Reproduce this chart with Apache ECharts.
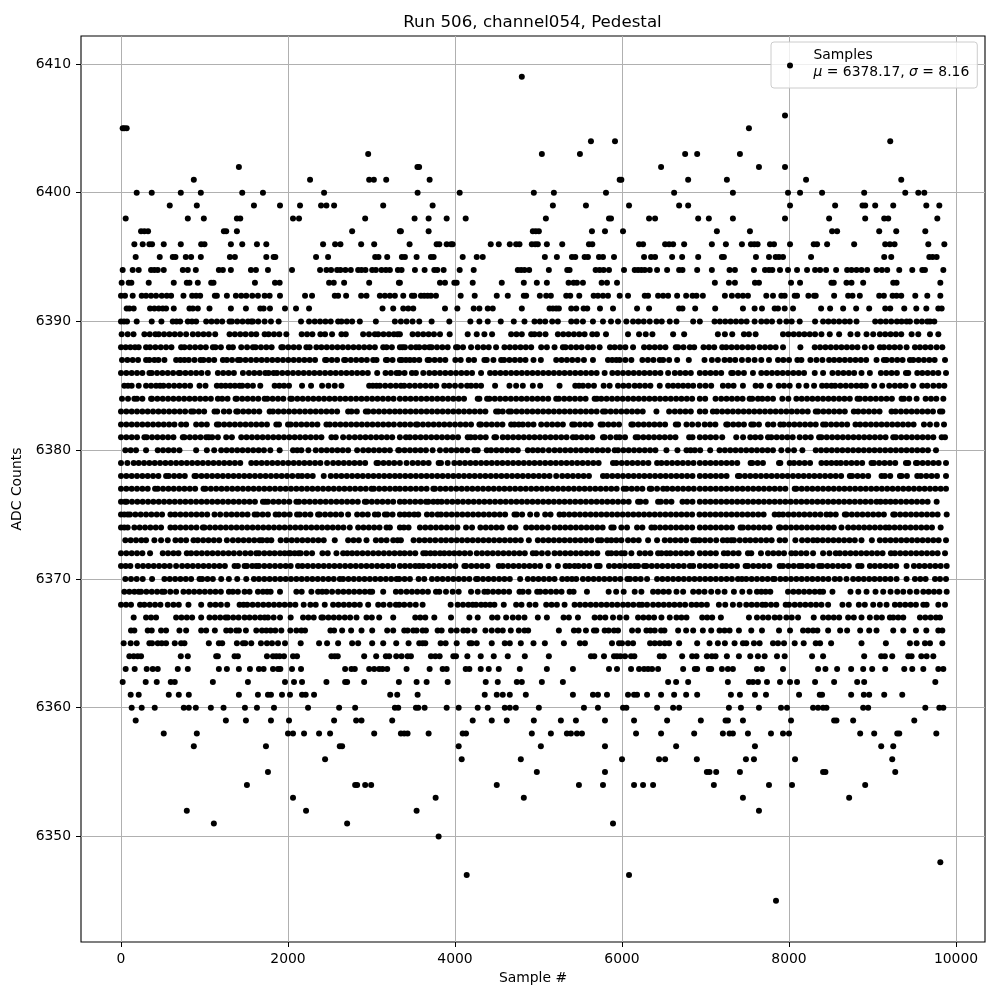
<!DOCTYPE html>
<html>
<head>
<meta charset="utf-8">
<title>Run 506, channel054, Pedestal</title>
<script src="https://cdn.jsdelivr.net/npm/echarts@6/dist/echarts.min.js"></script>
<style>
  html, body { margin: 0; padding: 0; background: #fff; }
  #main { width: 1000px; height: 1000px; }
</style>
</head>
<body>
<div id="main"></div>
<script>
// sample numbers, one list per ADC level
const adc6345 = [7844];
const adc6347 = [4140,6084];
const adc6348 = [9812];
const adc6350 = [3804];
const adc6351 = [1112,2708,5892];
const adc6352 = [788,2216,3540,7640];
const adc6353 = [2060,3768,4824,7448,8720];
const adc6354 = [1508,2804,2828,2924,2996,4500,5484,5772,6144,6252,6372,7100,7760,8036,8912];
const adc6355 = [1760,4980,5796,7016,7048,7128,7412,8408,8436,9272];
const adc6356 = [2444,4080,4788,6000,6444,6516,6896,7484,7580,8072,9236];
const adc6357 = [872,1736,2620,2648,4044,5028,5796,6648,7592,9104,9248];
const adc6358 = [512,908,2000,2060,2192,2372,2504,3032,3352,3392,3432,3684,4092,4132,4920,5148,5340,5388,5460,5520,6168,6468,6864,7208,7288,7328,7508,7784,7928,8000,8852,9020,9296,9320,9764];
const adc6359 = [176,1256,1496,1796,2012,2552,2816,2880,3248,4212,4440,4620,4944,5268,5448,5796,6144,6540,6944,7240,7268,7448,8024,8540,8568,8768,9500];
const adc6360 = [128,248,404,752,812,896,1076,1228,1484,1628,1832,2240,2612,2804,3280,3320,3532,3560,3636,3900,4044,4272,4392,4596,4656,4728,5004,5544,5712,6012,6052,6420,6612,6684,7280,7424,7640,7904,7976,8288,8348,8408,8448,8888,8948,9632,9800,9848];
const adc6361 = [116,212,572,692,812,1412,1640,1760,1796,1928,2024,2168,2212,2312,3224,3308,3552,4356,4500,4572,4656,4848,5412,5652,5712,5820,6072,6144,6180,6300,6468,6624,6768,6900,7304,7412,7592,7724,8120,8368,8396,8744,8896,8960,9140,9356];
const adc6362 = [20,296,428,596,644,1100,1520,1964,2072,2168,2460,2684,2708,2912,3328,3540,3660,3912,4368,4512,4740,4800,5040,5292,6552,6648,6792,7268,7520,7568,7628,7736,7892,8012,8096,8312,8540,8816,8900,9752];
const adc6363 = [56,164,308,380,440,680,800,1172,1268,1412,1544,1652,1708,1820,1880,1908,2048,2156,2684,2760,2800,2972,3032,3092,3132,3188,3420,3696,3852,3900,4128,4172,4308,4404,4524,4776,5100,5412,5844,5940,6108,6204,6264,6312,6360,6432,6732,6872,6900,7040,7068,7196,7268,7328,7616,7676,7928,8348,8436,8576,8744,8888,8996,9152,9380,9476,9608,9788,9848];
const adc6364 = [100,152,200,240,716,800,1140,1160,1360,1400,1748,1820,1860,1900,1952,2060,2108,2520,2560,2596,2912,3056,3172,3212,3296,3360,3432,3472,3712,3764,3816,3980,4012,4148,4308,4464,4632,4836,5124,5628,5668,5784,5904,5940,5980,6036,6108,6148,6452,6500,6720,6840,6892,7016,7076,7120,7256,7400,7536,7628,7708,7856,7948,8276,8408,8900,9104,9148,9236,9428,9468,9584,9648,9728];
const adc6365 = [32,116,188,340,372,440,488,540,644,720,760,1052,1172,1212,1388,1460,1488,1560,1676,1748,1808,1880,1964,2152,2372,2468,2600,2768,2840,3008,3140,3296,3444,3572,3612,3644,3828,3888,4020,4176,4200,4260,4440,4596,4656,4788,4940,5076,5304,5496,5556,5880,5964,6000,6072,6132,6336,6392,6452,6512,6564,6684,6900,7048,7148,7232,7348,7448,7488,7580,7648,7808,7868,7940,8068,8176,8320,8372,8504,8868,9160,9448,9528,9628,9688,9836];
const adc6366 = [120,160,320,368,480,540,700,780,960,1020,1124,1260,1312,1380,1412,1496,1620,1688,1740,1792,1848,1920,2028,2100,2160,2204,2508,2552,2648,2756,2880,3008,3188,3260,3392,3432,3500,3540,3612,3652,3792,3840,3952,4020,4100,4152,4232,4364,4440,4512,4572,4668,4764,4832,4876,5244,5424,5480,5568,5664,5692,5792,5840,5904,5952,6120,6192,6292,6340,6392,6468,6508,6672,6768,6852,6968,7068,7168,7228,7288,7400,7548,7676,7880,8012,8168,8228,8288,8340,8468,8612,8696,8852,8960,9048,9248,9368,9520,9644,9788,9836];
const adc6367 = [152,300,360,420,660,724,788,852,960,1060,1124,1188,1252,1280,1344,1408,1480,1540,1604,1668,1720,1760,1828,1904,2032,2180,2244,2308,2400,2420,2484,2548,2612,2680,2744,2820,2940,3004,3092,3260,3524,3584,3644,3752,3952,4172,4272,4444,4508,4612,4692,4760,4832,4992,5100,5300,5364,5472,5672,5736,5800,5892,5972,6052,6192,6256,6320,6384,6472,6572,6652,6712,6772,6960,7020,7080,7184,7520,7616,7688,7752,7828,7888,7968,8032,8108,8296,8408,8472,8536,8600,8708,8776,8868,8968,9048,9112,9208,9248,9308,9368,9568,9632,9696,9760,9808];
const adc6368 = [0,60,120,228,280,344,408,472,560,628,692,808,960,1068,1132,1196,1272,1420,1468,1512,1576,1640,1704,1768,1832,1896,1960,2024,2088,2188,2268,2332,2440,2540,2604,2668,2732,2796,2860,2960,3080,3144,3220,3292,3332,3392,3460,3530,3612,3948,4032,4096,4160,4212,4252,4312,4364,4420,4472,4584,4732,4796,4892,4964,5092,5156,5220,5312,5432,5496,5560,5624,5688,5752,5816,5880,5944,6012,6072,6136,6204,6240,6300,6372,6436,6500,6564,6628,6692,6756,6832,6892,6952,7016,7160,7236,7328,7408,7488,7552,7616,7680,7720,7784,7848,7960,8000,8068,8132,8196,8260,8324,8388,8468,8640,8716,8836,8908,9008,9088,9168,9268,9328,9392,9456,9520,9608,9648,9788,9868];
const adc6369 = [40,100,160,212,240,304,368,432,492,520,590,660,748,812,876,940,1004,1068,1132,1196,1292,1340,1400,1480,1540,1640,1700,1750,1792,1904,2100,2164,2280,2360,2410,2460,2528,2600,2664,2728,2792,2856,2920,2980,3008,3140,3292,3352,3420,3484,3548,3612,3676,3772,3812,3892,3972,4044,4192,4272,4352,4392,4456,4520,4584,4648,4772,4812,4880,4984,5020,5084,5148,5212,5276,5372,5420,5580,5840,5930,6020,6152,6232,6372,6432,6496,6560,6652,6732,6852,6920,6988,7068,7148,7228,7340,7440,7528,7616,7668,7720,7776,7988,8052,8116,8180,8244,8308,8368,8408,8520,8736,8830,8928,9036,9128,9216,9296,9368,9448,9528,9608,9672,9736,9800,9888];
const adc6370 = [52,120,188,260,372,520,584,648,712,776,840,940,972,1036,1100,1200,1292,1392,1500,1592,1652,1716,1780,1844,1908,1972,2036,2100,2164,2228,2292,2356,2420,2484,2548,2620,2660,2724,2788,2852,2916,2980,3044,3108,3172,3236,3300,3332,3396,3460,3564,3632,3724,3788,3852,3916,3980,4044,4108,4172,4252,4272,4336,4400,4464,4528,4592,4656,4780,4872,4936,5000,5064,5128,5192,5284,5344,5400,5452,5532,5596,5660,5724,5788,5852,5916,5980,6064,6096,6160,6224,6300,6420,6484,6548,6612,6676,6740,6804,6868,6932,6996,7060,7124,7188,7252,7316,7388,7436,7488,7552,7616,7680,7744,7808,7828,7896,7960,8024,8088,8152,8216,8280,8344,8408,8472,8548,8608,8688,8768,8832,8896,8960,9024,9088,9152,9216,9288,9408,9508,9572,9636,9748,9808,9880];
const adc6371 = [0,56,112,200,264,328,392,456,520,584,660,732,796,860,924,988,1052,1116,1180,1244,1360,1400,1480,1508,1572,1620,1652,1716,1780,1844,1908,1972,2032,2120,2172,2236,2300,2364,2428,2492,2556,2620,2684,2748,2812,2876,2940,3004,3068,3132,3196,3260,3340,3400,3462,3524,3572,3620,3684,3748,3812,3876,3940,4004,4112,4132,4196,4260,4324,4388,4524,4572,4636,4700,4764,4828,4892,4956,5020,5120,5232,5324,5372,5432,5480,5544,5608,5700,5732,5844,5908,5972,6036,6100,6152,6192,6264,6292,6356,6420,6484,6548,6612,6676,6740,6812,6852,6932,6996,7060,7124,7200,7248,7312,7376,7480,7508,7572,7636,7700,7764,7888,7928,7992,8056,8120,8156,8220,8284,8360,8396,8460,8524,8588,8652,8716,8828,8868,8968,9028,9092,9156,9220,9284,9408,9496,9560,9624,9688,9752,9816,9888];
const adc6372 = [0,64,128,192,256,348,500,564,628,688,788,840,904,968,1032,1096,1160,1224,1288,1352,1420,1488,1552,1620,1652,1716,1780,1840,1904,1960,2012,2028,2080,2128,2152,2220,2288,2412,2476,2580,2660,2710,2768,2828,2892,2956,3020,3084,3148,3212,3276,3340,3396,3460,3524,3620,3652,3706,3760,3820,3872,3932,3992,4052,4116,4180,4260,4324,4388,4452,4516,4580,4644,4708,4772,4836,4932,4972,5040,5112,5192,5256,5320,5384,5448,5512,5576,5640,5704,5832,5872,5932,5992,6032,6112,6212,6276,6340,6432,6472,6532,6580,6644,6708,6772,6836,6932,6996,7060,7124,7220,7268,7332,7396,7508,7548,7664,7748,7812,7876,7940,8028,8080,8144,8208,8288,8408,8484,8560,8608,8672,8736,8800,8864,8928,8992,9056,9120,9220,9268,9332,9396,9460,9524,9588,9652,9716,9780,9868];
const adc6373 = [52,116,180,244,300,400,480,560,652,716,780,868,920,984,1048,1112,1176,1268,1340,1404,1468,1532,1596,1660,1692,1750,1800,1912,1980,2044,2108,2172,2236,2300,2364,2428,2560,2720,2784,2848,2940,3052,3116,3180,3260,3312,3352,3504,3572,3636,3700,3764,3832,3892,3956,4020,4084,4148,4212,4276,4340,4404,4468,4532,4596,4660,4724,4788,4884,4992,5056,5120,5184,5248,5312,5376,5440,5504,5568,5632,5712,5752,5820,5872,5932,5992,6072,6136,6200,6312,6420,6512,6576,6640,6704,6768,6852,6880,6928,6992,7056,7128,7208,7260,7308,7340,7410,7476,7536,7600,7664,7728,7792,7888,7952,8076,8156,8222,8288,8340,8404,8468,8532,8596,8660,8724,8788,8868,8992,9088,9152,9216,9280,9344,9408,9472,9536,9600,9664,9728,9792,9880];
const adc6374 = [0,40,80,160,224,288,352,416,480,592,648,712,776,840,904,980,1000,1064,1128,1192,1256,1320,1384,1448,1512,1576,1640,1704,1768,1832,1896,1960,2024,2088,2152,2216,2280,2344,2408,2472,2536,2600,2664,2740,2840,2904,2968,3032,3096,3180,3220,3340,3388,3444,3580,3644,3708,3772,3836,3900,3964,4028,4132,4204,4304,4368,4432,4496,4560,4660,4724,4852,4916,4980,5044,5112,5192,5256,5320,5384,5448,5512,5576,5640,5704,5768,5872,5900,5992,6060,6180,6244,6352,6392,6456,6520,6584,6648,6712,6776,6840,6932,6996,7060,7124,7188,7252,7316,7420,7448,7512,7576,7640,7704,7768,7880,7896,7960,8024,8088,8152,8216,8280,8344,8408,8472,8536,8628,8708,8772,8836,8900,8964,9028,9092,9156,9200,9264,9328,9392,9456,9520,9584,9648,9712,9816];
const adc6375 = [0,40,80,108,172,236,300,364,428,492,592,648,712,776,840,904,968,1032,1120,1188,1260,1324,1388,1452,1516,1600,1632,1696,1760,1852,1892,1956,2020,2108,2140,2204,2268,2360,2380,2444,2508,2572,2636,2720,2828,2892,2956,3040,3080,3160,3188,3252,3340,3396,3452,3512,3560,3664,3724,3792,3832,3896,3960,4024,4088,4152,4216,4280,4344,4408,4472,4536,4600,4712,4740,4804,4900,4980,5080,5144,5252,5304,5368,5432,5496,5560,5624,5688,5752,5816,5880,5944,6008,6072,6136,6200,6264,6328,6392,6456,6520,6584,6648,6712,6776,6840,6928,6992,7056,7120,7184,7248,7312,7376,7440,7504,7568,7632,7696,7828,7880,7928,7992,8056,8120,8184,8248,8312,8376,8448,8496,8560,8668,8688,8752,8816,8880,8944,9008,9072,9136,9248,9268,9332,9396,9460,9524,9588,9652,9716,9780,9888];
const adc6376 = [0,48,68,132,196,260,324,388,452,516,580,644,708,772,836,900,964,1028,1092,1156,1220,1284,1348,1412,1476,1540,1604,1700,1728,1760,1824,1888,1952,2016,2100,2132,2196,2260,2324,2388,2452,2516,2580,2644,2708,2772,2836,2920,2940,3004,3068,3132,3196,3260,3340,3396,3460,3524,3588,3652,3680,3740,3792,3840,3904,3968,4032,4096,4160,4224,4288,4352,4416,4480,4544,4608,4672,4736,4800,4864,4928,4992,5056,5120,5184,5248,5312,5376,5440,5504,5568,5632,5696,5760,5824,5888,5952,6016,6080,6192,6220,6284,6432,6464,6528,6592,6724,6780,6844,6932,6996,7060,7124,7188,7252,7316,7380,7444,7508,7572,7636,7700,7764,7828,7892,7956,8020,8084,8148,8212,8276,8340,8404,8468,8532,8596,8660,8724,8788,8852,8916,8980,9048,9096,9156,9216,9276,9340,9404,9468,9532,9596,9660,9768];
const adc6377 = [0,64,128,192,256,320,408,440,504,568,632,696,760,824,888,988,1012,1076,1140,1204,1268,1332,1396,1460,1524,1588,1652,1716,1780,1844,1908,1972,2036,2100,2164,2228,2292,2356,2420,2484,2548,2612,2676,2740,2804,2868,2932,3000,3028,3092,3156,3220,3284,3340,3404,3468,3532,3596,3660,3740,3760,3824,3888,3952,4016,4080,4144,4208,4272,4336,4400,4464,4528,4592,4656,4720,4784,4848,4912,4976,5040,5104,5168,5232,5296,5360,5424,5488,5552,5616,5680,5744,5808,5872,5936,6020,6052,6116,6180,6244,6332,6352,6420,6492,6540,6604,6668,6732,6796,6860,6932,6996,7060,7124,7188,7252,7316,7380,7444,7508,7572,7636,7700,7764,7828,7892,7956,8068,8088,8152,8216,8280,8344,8408,8472,8536,8600,8664,8728,8792,8856,8920,8984,9048,9112,9176,9240,9304,9368,9432,9496,9560,9624,9688,9752,9816,9880];
const adc6378 = [0,64,128,192,256,320,384,448,540,572,636,700,764,880,900,964,1028,1092,1156,1220,1284,1348,1412,1476,1540,1604,1668,1732,1796,1860,1924,1988,2052,2120,2168,2232,2296,2428,2512,2576,2640,2704,2768,2832,2896,2960,3024,3088,3152,3216,3280,3340,3404,3468,3532,3596,3660,3724,3788,3852,3916,3980,4044,4108,4172,4236,4300,4364,4428,4492,4556,4620,4684,4748,4812,4876,4940,5004,5068,5132,5212,5284,5348,5412,5476,5540,5604,5772,5820,5884,5948,6012,6076,6140,6204,6268,6332,6396,6460,6524,6588,6652,6716,6780,6844,6932,6996,7060,7124,7188,7252,7388,7408,7472,7536,7600,7664,7728,7792,7856,7920,7984,8048,8112,8176,8240,8304,8368,8432,8496,8560,8624,8728,8756,8820,8884,8948,9108,9148,9212,9328,9348,9412,9536,9580,9644,9708,9772,9880];
const adc6379 = [0,76,152,212,276,340,404,468,532,596,660,724,788,852,916,980,1044,1108,1172,1236,1300,1364,1428,1560,1620,1684,1748,1812,1876,1940,2004,2068,2132,2196,2260,2324,2388,2468,2540,2604,2668,2732,2796,2860,2924,3060,3080,3144,3208,3272,3340,3420,3492,3556,3620,3684,3804,3832,3912,3992,4056,4120,4184,4248,4312,4376,4440,4504,4568,4632,4696,4760,4824,4888,4952,5016,5080,5144,5208,5272,5336,5400,5464,5528,5592,5656,5720,5892,5932,5996,6060,6124,6188,6252,6316,6420,6472,6536,6600,6664,6728,6792,6856,6932,6996,7060,7124,7188,7252,7316,7380,7540,7560,7624,7688,7880,7896,8008,8060,8124,8188,8252,8388,8448,8508,8568,8620,8684,8748,8812,8876,8988,9016,9080,9144,9208,9272,9400,9428,9520,9536,9600,9664,9728,9792,9880];
const adc6380 = [52,116,180,300,440,504,568,632,700,900,1028,1116,1200,1264,1328,1392,1456,1520,1584,1648,1712,1788,1900,2060,2110,2160,2244,2332,2400,2464,2528,2592,2656,2720,2828,2900,2964,3028,3092,3156,3220,3320,3332,3396,3460,3524,3588,3652,3732,3820,3892,3956,4020,4084,4148,4232,4272,4380,4432,4496,4560,4624,4688,4752,4872,4932,4992,5052,5124,5192,5256,5320,5384,5448,5512,5576,5640,5704,5768,5832,5912,5952,6016,6080,6144,6208,6272,6336,6400,6532,6664,6772,6822,6872,6936,7056,7168,7232,7296,7360,7424,7488,7552,7616,7680,7744,7808,7908,7988,8060,8160,8320,8384,8448,8512,8576,8640,8704,8768,8832,8896,8960,9024,9088,9152,9216,9280,9344,9408,9472,9536,9600,9664,9760];
const adc6381 = [0,64,128,192,280,308,372,436,500,564,628,740,760,824,888,952,1020,1052,1092,1160,1260,1328,1440,1504,1568,1632,1696,1760,1824,1888,1952,2016,2080,2144,2208,2272,2336,2400,2520,2572,2660,2732,2800,2864,2928,2992,3056,3120,3184,3248,3340,3412,3460,3524,3588,3652,3716,3780,3844,3908,3972,4036,4152,4188,4240,4304,4368,4472,4492,4572,4632,4696,4760,4824,4888,4952,5016,5080,5144,5208,5272,5336,5412,5452,5516,5580,5644,5772,5792,5860,5932,5972,6036,6164,6192,6256,6320,6384,6448,6512,6576,6640,6804,6844,6932,6996,7060,7124,7200,7368,7450,7536,7596,7660,7748,7788,7852,7916,7980,8044,8128,8196,8260,8360,8388,8452,8516,8580,8644,8708,8772,8836,8900,8964,9028,9092,9156,9248,9280,9344,9408,9472,9536,9600,9664,9728,9828,9868];
const adc6382 = [0,64,128,192,256,320,384,448,512,576,640,720,780,900,964,1028,1148,1172,1236,1300,1364,1428,1492,1556,1620,1684,1748,1860,1892,2000,2032,2096,2160,2224,2288,2352,2460,2500,2564,2628,2692,2756,2820,2884,2948,3012,3076,3140,3204,3268,3340,3400,3465,3532,3552,3616,3680,3744,3808,3872,3936,4000,4064,4128,4192,4292,4312,4376,4440,4504,4568,4672,4712,4764,4812,4876,4940,5032,5100,5164,5228,5292,5404,5432,5496,5560,5624,5744,5772,5836,5900,5964,6112,6132,6196,6260,6324,6388,6452,6516,6644,6672,6772,6840,6912,6990,7054,7118,7248,7268,7332,7396,7460,7548,7576,7640,7748,7812,7896,7936,8000,8064,8128,8192,8256,8320,8408,8440,8504,8568,8632,8696,8796,8852,8916,8980,9044,9108,9172,9236,9300,9364,9428,9492,9616,9688,9768,9856];
const adc6383 = [0,64,128,192,256,320,384,448,512,576,640,704,768,840,868,932,996,1120,1152,1232,1296,1380,1400,1464,1528,1592,1656,1780,1820,1884,1948,2012,2076,2140,2204,2268,2332,2396,2460,2524,2588,2720,2760,2824,2932,2960,3024,3088,3152,3216,3280,3340,3404,3468,3532,3596,3660,3724,3788,3852,3916,3980,4044,4108,4172,4236,4300,4364,4492,4520,4572,4644,4672,4736,4800,4864,4928,4992,5056,5120,5184,5248,5312,5376,5440,5504,5568,5632,5696,5772,5800,5864,5928,5992,6056,6120,6184,6248,6412,6564,6632,6696,6760,6824,6932,6996,7088,7136,7200,7264,7328,7392,7456,7520,7584,7648,7712,7776,7840,7904,7968,8032,8096,8160,8224,8320,8348,8412,8476,8540,8604,8668,8776,8828,8892,8956,9020,9084,9228,9276,9340,9404,9468,9532,9596,9660,9724,9808,9836];
const adc6384 = [12,84,160,192,256,360,372,436,500,564,628,692,756,820,884,948,1012,1076,1160,1212,1276,1372,1388,1452,1516,1580,1644,1720,1752,1816,1880,1944,2028,2048,2112,2176,2240,2304,2368,2432,2496,2560,2624,2688,2752,2816,2880,2944,3008,3072,3136,3200,3264,3340,3404,3468,3532,3596,3660,3724,3788,3852,3916,3980,4044,4108,4272,4292,4384,4412,4476,4540,4604,4668,4732,4796,4860,4924,4988,5052,5116,5212,5244,5308,5372,5436,5500,5564,5672,5700,5752,5816,5880,5944,6008,6072,6136,6200,6264,6328,6392,6456,6520,6584,6648,6712,6776,6840,6932,6996,7120,7188,7252,7316,7380,7444,7528,7560,7628,7680,7744,7808,7920,7992,8088,8152,8216,8280,8344,8408,8472,8536,8600,8664,8728,8820,8848,8912,8976,9040,9104,9168,9232,9348,9376,9440,9528,9636,9700,9764,9848];
const adc6385 = [40,84,128,212,300,360,420,468,508,572,636,700,764,828,940,1012,1148,1200,1252,1308,1364,1420,1452,1516,1580,1668,1840,1896,1952,2012,2168,2276,2408,2484,2560,2640,2972,3016,3060,3100,3164,3228,3292,3352,3392,3456,3520,3584,3648,3712,3776,3872,3932,4000,4072,4144,4192,4252,4312,4480,4652,4732,4812,4932,5020,5252,5440,5485,5532,5596,5664,5780,5852,5952,6016,6080,6152,6212,6276,6340,6452,6552,6612,6672,6732,6792,6852,6932,7000,7068,7208,7272,7336,7448,7600,7664,7768,7876,7940,8008,8116,8208,8300,8396,8450,8508,8552,8616,8680,8744,8808,8868,8920,9020,9116,9200,9268,9332,9396,9488,9596,9656,9728,9796,9860];
const adc6386 = [0,64,128,192,256,340,368,432,496,560,624,692,708,772,836,900,964,1040,1160,1224,1288,1352,1460,1532,1596,1660,1728,1768,1828,1868,1932,1996,2060,2124,2188,2252,2316,2380,2444,2508,2572,2636,2700,2764,2828,2892,2956,3068,3168,3232,3300,3332,3396,3484,3532,3620,3692,3756,3820,3884,3948,4012,4076,4140,4204,4312,4420,4480,4544,4608,4672,4736,4800,4864,4928,4992,5056,5120,5184,5248,5312,5376,5440,5504,5568,5632,5696,5792,5884,5948,6012,6076,6140,6204,6268,6332,6396,6460,6552,6632,6696,6760,6824,6932,6996,7060,7124,7188,7308,7328,7392,7460,7568,7668,7732,7796,7860,7924,7988,8052,8116,8180,8308,8408,8520,8588,8652,8716,8780,8868,8968,9100,9164,9228,9292,9400,9428,9536,9596,9660,9724,9788,9880];
const adc6387 = [12,76,140,204,300,340,400,448,520,660,710,760,812,880,952,988,1052,1116,1220,1268,1330,1400,1428,1492,1556,1620,1684,1748,1812,1876,1940,2004,2068,2132,2196,2260,2324,2444,2460,2524,2588,2672,2688,2752,2816,2880,2944,3020,3060,3172,3188,3252,3340,3364,3412,3460,3512,3572,3672,3692,3756,3820,3884,4004,4068,4164,4228,4352,4380,4460,4552,4588,4652,4716,4780,4844,4940,5028,5212,5276,5340,5404,5470,5544,5652,5832,5882,5932,5972,6040,6112,6244,6310,6376,6452,6492,6564,6660,6800,6988,7076,7148,7228,7292,7356,7436,7512,7588,7668,7760,7868,7932,8000,8100,8148,8256,8328,8400,8480,8540,8604,8668,8732,8796,8860,8924,9048,9136,9168,9232,9296,9360,9448,9488,9552,9616,9680,9744,9868];
const adc6388 = [0,56,112,168,212,300,348,412,476,540,604,720,760,824,888,952,1016,1100,1132,1196,1292,1340,1440,1510,1580,1612,1676,1740,1804,1920,1940,2004,2068,2132,2220,2260,2340,2400,2464,2528,2592,2656,2720,2784,2848,2912,2976,3040,3140,3180,3244,3340,3372,3400,3472,3532,3572,3636,3692,3720,3784,3848,3912,4012,4032,4096,4192,4272,4340,4404,4492,4592,4656,4720,4784,4848,4912,5032,5100,5192,5292,5324,5388,5452,5516,5592,5652,5732,5856,5912,5976,6040,6132,6264,6328,6392,6456,6520,6644,6672,6736,6812,6864,6976,7040,7104,7200,7248,7312,7376,7440,7508,7568,7648,7712,7776,7840,7928,8136,8308,8372,8436,8500,8564,8628,8692,8756,8820,8908,8988,9088,9136,9200,9264,9328,9408,9508,9568,9632,9696,9768,9836];
const adc6389 = [8,80,150,280,344,412,452,516,580,644,708,780,860,924,988,1052,1128,1300,1364,1428,1492,1560,1620,1720,1768,1832,1896,1980,2164,2228,2292,2388,2444,2528,2640,2692,2900,2970,3040,3080,3144,3208,3268,3312,3340,3492,3556,3620,3684,3748,3820,3936,4152,4260,4352,4444,4672,4736,4800,4912,4952,5012,5084,5232,5296,5360,5424,5488,5552,5644,5700,5808,6072,6204,6284,6364,6612,6744,7148,7232,7320,7460,7520,7600,7928,7992,8056,8120,8184,8248,8312,8388,8488,8600,8736,8820,8928,9008,9088,9152,9216,9280,9344,9468,9548,9688,9788];
const adc6390 = [0,36,72,188,368,484,620,664,708,800,850,900,1020,1084,1148,1212,1300,1328,1392,1456,1520,1560,1580,1644,1720,1796,1888,2156,2252,2320,2384,2448,2512,2600,2640,2704,2768,2860,3052,3280,3352,3420,3492,3572,3720,3932,4184,4292,4392,4548,4704,4832,4952,5016,5080,5164,5232,5392,5456,5532,5652,5772,5868,5952,6052,6132,6196,6260,6332,6412,6476,6572,6652,6852,6932,7108,7172,7236,7300,7364,7428,7492,7588,7668,7732,7796,7888,7968,8032,8128,8312,8408,8472,8536,8600,8668,8728,8808,9032,9096,9160,9224,9292,9348,9408,9448,9528,9592,9656,9688,9740];
const adc6391 = [68,100,152,348,400,452,500,540,632,820,860,920,1060,1316,1496,1668,1708,1784,1964,2096,2252,3132,3260,3380,3440,3500,3880,4028,4224,4292,4392,4452,4800,5132,5172,5212,5244,5392,5452,5540,5584,5736,5892,6180,6324,6684,6724,6876,7116,7448,7588,7676,7828,7868,7948,8048,8384,8492,8648,8804,8960,9152,9212,9380,9524,9644,9788,9828];
const adc6392 = [0,48,140,248,300,360,420,488,548,600,748,852,900,948,1124,1148,1268,1376,1440,1500,1572,1640,1720,1780,1904,2204,2288,2560,2600,2696,2876,2940,3100,3160,3220,3280,3380,3484,3512,3592,3632,3672,3712,3772,4068,4236,4500,4632,4824,4852,5016,5092,5148,5332,5380,5488,5660,5712,5772,5832,5972,6072,6272,6312,6432,6492,6552,6660,6768,6844,6892,6968,7232,7316,7388,7448,7508,7728,7808,7908,7948,8068,8096,8232,8300,8320,8540,8708,8760,8848,9080,9136,9240,9288,9344,9512,9656,9812];
const adc6393 = [8,92,124,332,632,788,820,920,1080,1108,1604,1844,1900,2492,2548,2672,2972,3328,3340,3820,3880,3992,4020,4212,4560,4824,4980,5100,5360,5420,5460,5532,5756,5820,5940,7112,7280,7352,7592,7640,8024,8132,8508,8536,8688,8748,8888,9248,9288,9812];
const adc6394 = [20,140,212,360,400,440,512,740,800,896,1172,1220,1316,1556,1616,1760,2048,2384,2460,2516,2588,2628,2688,2752,2840,2880,2928,3008,3052,3120,3172,3220,3316,3360,3520,3636,3752,3788,3864,4056,4224,4752,4792,4832,4888,5124,5344,5372,5684,5732,5780,5844,6024,6152,6192,6232,6272,6332,6420,6540,6684,6724,6900,7076,7288,7352,7580,7712,7760,7800,7892,7988,8096,8216,8312,8372,8444,8564,8696,8748,8808,8868,8936,9048,9112,9176,9320,9476,9596,9628,9848];
const adc6395 = [176,464,620,652,776,840,956,1304,1364,1740,1828,1848,2336,2480,3044,3084,3188,3364,3400,3540,3712,3744,4092,4260,4332,5076,5220,5400,5440,5552,5592,5724,5772,5904,6264,6348,6396,6600,6720,6912,7196,7220,7604,7760,7840,7880,7928,8264,9140,9224,9680,9720,9768];
const adc6396 = [160,260,340,372,512,716,960,1000,1316,1452,1628,1740,2420,2564,2628,2876,3032,3456,3780,3812,3900,3952,3972,4428,4524,4656,4732,4772,4920,4960,4992,5100,5284,5604,5644,6204,6252,6516,6564,6612,6744,7076,7244,7436,7544,7584,7624,7772,7820,8012,8296,8336,8456,8780,9152,9208,9264,9668,9860];
const adc6397 = [240,280,324,1232,1260,1388,2768,3340,3352,3684,4932,4968,5004,5640,5796,6012,7136,7532,8516,8576,9080,9284,9632];
const adc6398 = [56,800,992,1388,1428,2060,2132,2924,3516,3684,3900,4128,5088,5844,5868,6324,6396,6912,7040,7328,7952,8480,8912,9140,9188,9776];
const adc6399 = [584,908,1592,1904,2144,2396,2460,2552,3140,3732,5172,5568,6084,6684,6792,8012,8552,8880,8912,9032,9248,9644,9800];
const adc6400 = [188,368,716,956,1452,1700,2432,3552,4056,4944,5184,5808,6624,7328,7988,8132,8396,8900,9392,9548,9620];
const adc6401 = [872,2264,2972,3028,3176,3696,5972,5992,6792,7256,8204,9344];
const adc6402 = [1412,3550,3570,6468,7640,7952];
const adc6403 = [2960,5040,5496,6756,6900,7412];
const adc6404 = [5628,5916,9212];
const adc6405 = [20,40,68,7520];
const adc6406 = [7952];
const adc6409 = [4800];

const levels = [
  [6345,adc6345],[6347,adc6347],[6348,adc6348],[6350,adc6350],[6351,adc6351],[6352,adc6352],[6353,adc6353],
  [6354,adc6354],[6355,adc6355],[6356,adc6356],[6357,adc6357],[6358,adc6358],[6359,adc6359],[6360,adc6360],
  [6361,adc6361],[6362,adc6362],[6363,adc6363],[6364,adc6364],[6365,adc6365],[6366,adc6366],[6367,adc6367],
  [6368,adc6368],[6369,adc6369],[6370,adc6370],[6371,adc6371],[6372,adc6372],[6373,adc6373],[6374,adc6374],
  [6375,adc6375],[6376,adc6376],[6377,adc6377],[6378,adc6378],[6379,adc6379],[6380,adc6380],[6381,adc6381],
  [6382,adc6382],[6383,adc6383],[6384,adc6384],[6385,adc6385],[6386,adc6386],[6387,adc6387],[6388,adc6388],
  [6389,adc6389],[6390,adc6390],[6391,adc6391],[6392,adc6392],[6393,adc6393],[6394,adc6394],[6395,adc6395],
  [6396,adc6396],[6397,adc6397],[6398,adc6398],[6399,adc6399],[6400,adc6400],[6401,adc6401],[6402,adc6402],
  [6403,adc6403],[6404,adc6404],[6405,adc6405],[6406,adc6406],[6409,adc6409]
];
const xTicks = [0,2000,4000,6000,8000,10000];
const yTicks = [6350,6360,6370,6380,6390,6400,6410];

let points = [];
levels.forEach(function (row) {
  row[1].forEach(function (x) { points.push([x, row[0]]); });
});

const font = '"DejaVu Sans"';
let myChart = echarts.init(document.getElementById('main'), null, { renderer: 'canvas' });

function axisStyle(ticks) {
  return {
    type: 'value',
    scale: true,
    axisLine: { show: false, onZero: false },
    axisTick: { show: true, length: 5, lineStyle: { color: '#000', width: 1 }, customValues: ticks },
    axisLabel: { color: '#000', fontFamily: font, fontSize: 13.9, margin: 10, customValues: ticks, formatter: function (v) { return String(v); } },
    splitLine: { show: true, lineStyle: { color: '#b0b0b0', width: 1 } },
    nameLocation: 'middle',
    nameTextStyle: { color: '#000', fontFamily: font, fontSize: 13.9 }
  };
}

let option = {
  animation: false,
  backgroundColor: '#fff',
  title: {
    text: 'Run 506, channel054, Pedestal',
    left: 527.5,
    top: 9,
    textAlign: 'center',
    textStyle: { color: '#000', fontFamily: font, fontSize: 16.67, fontWeight: 'normal' }
  },
  grid: { left: 81, right: 15, top: 36, bottom: 58, show: true, borderColor: '#000', borderWidth: 1.1, backgroundColor: 'transparent' },
  xAxis: Object.assign(axisStyle(xTicks), { min: -479, max: 10347, name: 'Sample #', nameGap: 29 }),
  yAxis: Object.assign(axisStyle(yTicks), { min: 6341.8, max: 6412.17, name: 'ADC Counts', nameGap: 45 }),
  legend: {
    show: true,
    left: 771,
    top: 42,
    padding: [6, 8, 9, 16],
    selectedMode: false,
    data: ['Samples'],
    itemWidth: 37,
    itemHeight: 6,
    icon: 'circle',
    backgroundColor: 'rgba(255,255,255,0.8)',
    borderColor: '#cccccc',
    borderWidth: 1,
    borderRadius: 3,
    z: 10,
    formatter: function () {
      return '{a|Samples}\n{i|μ}{a| = 6378.17, }{i|σ}{a| = 8.16}';
    },
    textStyle: {
      color: '#000',
      padding: [0, 0, 4, 0],
      rich: {
        a: { fontFamily: font, fontSize: 13.9, lineHeight: 17, color: '#000' },
        i: { fontFamily: font, fontSize: 13.9, lineHeight: 17, color: '#000', fontStyle: 'italic' }
      }
    }
  },
  series: [{
    name: 'Samples',
    type: 'scatter',
    symbol: 'circle',
    symbolSize: 6,
    itemStyle: { color: '#000', opacity: 1 },
    data: points,
    silent: true,
    large: false,
    progressive: 0
  }]
};

if (option && typeof option === 'object') {
  myChart.setOption(option, true);
}
</script>
</body>
</html>
